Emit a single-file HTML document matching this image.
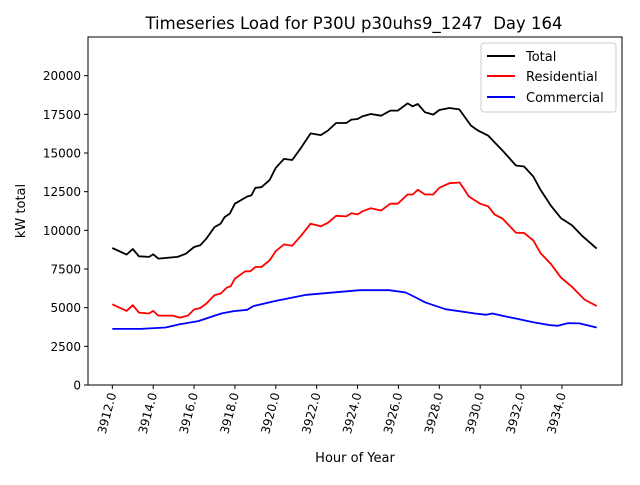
<!DOCTYPE html>
<html><head><meta charset="utf-8"><style>
body{margin:0;background:#fff}
svg text{font-family:"DejaVu Sans","Liberation Sans",sans-serif;fill:#000}
</style></head><body>
<svg id="chart" width="640" height="480" xmlns="http://www.w3.org/2000/svg">
<rect width="640" height="480" fill="#fff"/>
<text x="354" y="29" font-size="16.5" text-anchor="middle">Timeseries Load for P30U p30uhs9_1247 &#160;Day 164</text>
<g id="grid"></g>
<g id="series"></g>
<rect x="88" y="37" width="534" height="348" fill="none" stroke="#000" stroke-width="1"/>
<text x="355" y="462" font-size="13" text-anchor="middle">Hour of Year</text>
<text transform="translate(25,211) rotate(-90)" font-size="13" text-anchor="middle">kW total</text>
<g>
<rect x="481" y="43" width="135" height="69" rx="3" fill="#fff" stroke="#ccc"/>
<g><line x1="487" y1="56" x2="515" y2="56" stroke="#000" stroke-width="2"/><text x="526" y="61" font-size="13">Total</text></g>
<g><line x1="487" y1="76" x2="515" y2="76" stroke="#f00" stroke-width="2"/><text x="526" y="81" font-size="13">Residential</text></g>
<g><line x1="487" y1="97" x2="515" y2="97" stroke="#00f" stroke-width="2"/><text x="526" y="102" font-size="13">Commercial</text></g>
</g>
</svg>
<script>
const xTicks=[3912,3914,3916,3918,3920,3922,3924,3926,3928,3930,3932,3934];
const yTicks=[0,2500,5000,7500,10000,12500,15000,17500,20000];
const totalHours=[3912,3912.7,3913,3913.3,3913.8,3914,3914.25,3915.2,3915.6,3916,3916.3,3916.6,3917,3917.3,3917.5,3917.75,3918,3918.6,3918.8,3919,3919.3,3919.7,3920,3920.4,3920.8,3921.25,3921.7,3922.2,3922.55,3922.95,3923.45,3923.7,3924.0,3924.25,3924.65,3925.15,3925.6,3925.97,3926.45,3926.7,3926.95,3927.3,3927.7,3928,3928.5,3928.98,3929.55,3929.9,3930.4,3930.7,3931.1,3931.75,3932.15,3932.6,3932.95,3933.45,3933.95,3934.5,3935,3935.7];
const totalValues=[8860,8430,8790,8320,8280,8450,8170,8280,8490,8920,9030,9460,10210,10430,10860,11080,11720,12190,12260,12750,12790,13260,14040,14620,14550,15370,16270,16160,16450,16940,16940,17160,17200,17380,17520,17410,17740,17740,18210,18020,18170,17630,17480,17780,17910,17820,16770,16450,16120,15690,15150,14190,14130,13480,12620,11610,10790,10320,9630,8820];
const resHours=[3912,3912.7,3913,3913.3,3913.8,3914,3914.25,3914.95,3915.3,3915.7,3916,3916.3,3916.6,3917,3917.3,3917.6,3917.8,3918,3918.5,3918.75,3919,3919.3,3919.7,3920,3920.4,3920.8,3921.25,3921.7,3922.2,3922.55,3922.95,3923.45,3923.7,3924.0,3924.25,3924.65,3925.15,3925.6,3925.97,3926.45,3926.7,3926.95,3927.3,3927.7,3928,3928.5,3929,3929.45,3930,3930.4,3930.7,3931.1,3931.75,3932.15,3932.6,3932.95,3933.45,3933.95,3934.5,3935.1,3935.7];
const resValues=[5220,4790,5160,4680,4620,4790,4490,4490,4360,4490,4880,4980,5260,5810,5910,6300,6390,6880,7350,7350,7630,7630,8060,8660,9090,9000,9680,10430,10260,10490,10940,10900,11110,11030,11240,11430,11280,11720,11720,12320,12320,12620,12320,12320,12750,13050,13090,12190,11720,11550,11030,10750,9850,9830,9350,8530,7840,6950,6340,5530,5100];
const comHours=[3912,3913.4,3914.6,3915.3,3916.2,3917.35,3917.95,3918.6,3918.9,3920,3921.5,3924.1,3925.55,3926.35,3926.85,3927.3,3928.3,3929.75,3930.3,3930.6,3931.2,3931.8,3932.6,3933.4,3933.8,3934.3,3934.85,3935.7];
const comValues=[3630,3630,3720,3930,4130,4630,4780,4860,5100,5440,5830,6130,6130,5980,5660,5350,4900,4620,4540,4620,4450,4280,4060,3870,3830,4000,3980,3720];

const NS="http://www.w3.org/2000/svg";
const xMin=3910.81,xMax=3936.94,yMin=0,yMax=22500;
const L=88,R=622,T=37,B=385;
function xs(v){return L+(v-xMin)/(xMax-xMin)*(R-L);}
function ys(v){return B-(v-yMin)/(yMax-yMin)*(B-T);}
const grid=document.getElementById('grid');
xTicks.forEach(t=>{
  const x=xs(t);
  const ln=document.createElementNS(NS,'line');
  ln.setAttribute('x1',x);ln.setAttribute('x2',x);ln.setAttribute('y1',B);ln.setAttribute('y2',B+4);
  ln.setAttribute('stroke','#000');
  
  
  grid.appendChild(ln);
  const tx=document.createElementNS(NS,'text');
  tx.setAttribute('transform','translate('+(x+4)+','+(B+9)+') rotate(-75)');
  tx.setAttribute('text-anchor','end');tx.setAttribute('font-size','12');
  tx.textContent=t.toFixed(1);
  
  
  grid.appendChild(tx);
});
yTicks.forEach(t=>{
  const y=ys(t);
  const ln=document.createElementNS(NS,'line');
  ln.setAttribute('x1',L-4);ln.setAttribute('x2',L);ln.setAttribute('y1',y);ln.setAttribute('y2',y);
  ln.setAttribute('stroke','#000');
  
  
  grid.appendChild(ln);
  const tx=document.createElementNS(NS,'text');
  tx.setAttribute('x',L-7);tx.setAttribute('y',y+4.5);
  tx.setAttribute('text-anchor','end');tx.setAttribute('font-size','12');
  tx.textContent=t;
  
  
  grid.appendChild(tx);
});
const ser=document.getElementById('series');
function draw(hs,vs,color,name){
  const p=document.createElementNS(NS,'polyline');
  p.setAttribute('points',hs.map((h,i)=>xs(h).toFixed(1)+','+ys(vs[i]).toFixed(1)).join(' '));
  p.setAttribute('fill','none');p.setAttribute('stroke',color);p.setAttribute('stroke-width','1.8');
  p.setAttribute('stroke-linejoin','round');
  
  
  ser.appendChild(p);
}
draw(totalHours,totalValues,'#000','total-line');
draw(resHours,resValues,'#f00','residential-line');
draw(comHours,comValues,'#00f','commercial-line');
</script>
</body></html>
